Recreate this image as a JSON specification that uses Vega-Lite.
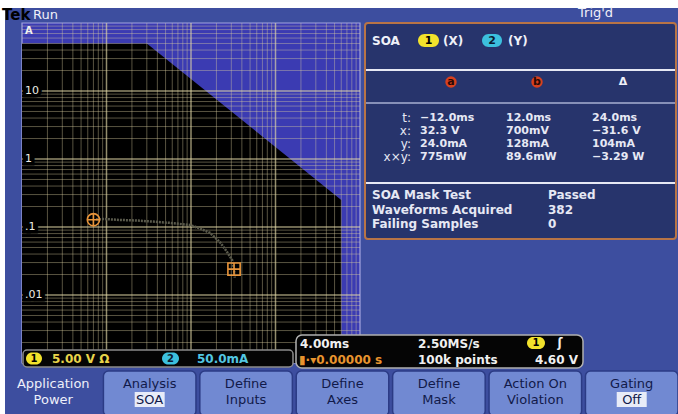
{
  "$schema": "https://vega.github.io/schema/vega-lite/v6.json",
  "width": 338,
  "height": 340,
  "autosize": {"type": "none"},
  "padding": {"left": 22, "top": 23, "right": 318, "bottom": 51},
  "background": "#ffffff",
  "config": {
    "view": {"stroke": null},
    "axis": {"disable": true},
    "legend": {"disable": true},
    "text": {"font": "DejaVu Sans", "fontSize": 12}
  },
  "data": {"values": [{}]},
  "datasets": {
    "mask": [
      {"volts": 0.1, "amps": 50},
      {"volts": 3, "amps": 50},
      {"volts": 600, "amps": 0.25}
    ],
    "xMinor": [
      {"volts": 0.2}, {"volts": 0.3}, {"volts": 0.4}, {"volts": 0.5}, {"volts": 0.6}, {"volts": 0.7}, {"volts": 0.8}, {"volts": 0.9},
      {"volts": 2}, {"volts": 3}, {"volts": 4}, {"volts": 5}, {"volts": 6}, {"volts": 7}, {"volts": 8}, {"volts": 9},
      {"volts": 20}, {"volts": 30}, {"volts": 40}, {"volts": 50}, {"volts": 60}, {"volts": 70}, {"volts": 80}, {"volts": 90},
      {"volts": 200}, {"volts": 300}, {"volts": 400}, {"volts": 500}, {"volts": 600}, {"volts": 700}, {"volts": 800}, {"volts": 900}
    ],
    "xMajor": [{"volts": 1}, {"volts": 10}, {"volts": 100}],
    "yMinor": [
      {"amps": 0.002}, {"amps": 0.003}, {"amps": 0.004}, {"amps": 0.005}, {"amps": 0.006}, {"amps": 0.007}, {"amps": 0.008}, {"amps": 0.009},
      {"amps": 0.02}, {"amps": 0.03}, {"amps": 0.04}, {"amps": 0.05}, {"amps": 0.06}, {"amps": 0.07}, {"amps": 0.08}, {"amps": 0.09},
      {"amps": 0.2}, {"amps": 0.3}, {"amps": 0.4}, {"amps": 0.5}, {"amps": 0.6}, {"amps": 0.7}, {"amps": 0.8}, {"amps": 0.9},
      {"amps": 2}, {"amps": 3}, {"amps": 4}, {"amps": 5}, {"amps": 6}, {"amps": 7}, {"amps": 8}, {"amps": 9},
      {"amps": 20}, {"amps": 30}, {"amps": 40}, {"amps": 50}, {"amps": 60}, {"amps": 70}, {"amps": 80}, {"amps": 90}
    ],
    "yMajor": [{"amps": 0.01}, {"amps": 0.1}, {"amps": 1}, {"amps": 10}],
    "ampLabels": [
      {"amps": 10, "label": "10"},
      {"amps": 1, "label": "1"},
      {"amps": 0.1, "label": ".1"},
      {"amps": 0.01, "label": ".01"}
    ],
    "trace": [
      {"volts": 0.75, "amps": 0.13},
      {"volts": 0.96, "amps": 0.131},
      {"volts": 1.44, "amps": 0.127},
      {"volts": 2.17, "amps": 0.125},
      {"volts": 3.55, "amps": 0.12},
      {"volts": 5.64, "amps": 0.115},
      {"volts": 9.73, "amps": 0.107},
      {"volts": 12.8, "amps": 0.095},
      {"volts": 16.8, "amps": 0.082},
      {"volts": 22, "amps": 0.06},
      {"volts": 26.7, "amps": 0.043},
      {"volts": 30.6, "amps": 0.033},
      {"volts": 32.3, "amps": 0.024},
      {"volts": 33, "amps": 0.018}
    ],
    "cursors": [
      {"cursor": "a", "volts": 0.7, "amps": 0.128},
      {"cursor": "b", "volts": 32.3, "amps": 0.024}
    ],
    "readout": [
      {"quantity": "t:", "a": "−12.0ms", "b": "12.0ms", "delta": "24.0ms"},
      {"quantity": "x:", "a": "32.3 V", "b": "700mV", "delta": "−31.6 V"},
      {"quantity": "y:", "a": "24.0mA", "b": "128mA", "delta": "104mA"},
      {"quantity": "x×y:", "a": "775mW", "b": "89.6mW", "delta": "−3.29 W"}
    ],
    "cursorHeads": [
      {"column": "a", "symbol": "a", "marker": true},
      {"column": "b", "symbol": "b", "marker": true},
      {"column": "delta", "symbol": "Δ", "marker": false}
    ],
    "maskTest": [
      {"item": "SOA Mask Test", "result": "Passed"},
      {"item": "Waveforms Acquired", "result": "382"},
      {"item": "Failing Samples", "result": "0"}
    ],
    "softkeys": [
      {"slot": 0, "caption": "Application", "setting": "Power", "button": false, "selected": false},
      {"slot": 1, "caption": "Analysis", "setting": "SOA", "button": true, "selected": true},
      {"slot": 2, "caption": "Define", "setting": "Inputs", "button": true, "selected": false},
      {"slot": 3, "caption": "Define", "setting": "Axes", "button": true, "selected": false},
      {"slot": 4, "caption": "Define", "setting": "Mask", "button": true, "selected": false},
      {"slot": 5, "caption": "Action On", "setting": "Violation", "button": true, "selected": false},
      {"slot": 6, "caption": "Gating", "setting": "Off", "button": true, "selected": true}
    ]
  },
  "layer": [
    {
      "layer": [
        {"mark": {"type": "rect", "fill": "#3d4e9f"},
         "encoding": {
           "x": {"datum": 5, "type": "quantitative", "scale": {"domain": [0, 678], "range": [-22, 656], "nice": false, "zero": false}},
           "x2": {"datum": 678},
           "y": {"datum": 8, "type": "quantitative", "scale": {"domain": [0, 414], "range": [-23, 391], "nice": false, "zero": false}},
           "y2": {"datum": 414}}},
        {"mark": {"type": "rect", "fill": "#27346c", "stroke": "#b87446", "strokeWidth": 2, "cornerRadius": 3},
         "encoding": {"x": {"datum": 365, "type": "quantitative"}, "x2": {"datum": 676}, "y": {"datum": 23, "type": "quantitative"}, "y2": {"datum": 239}}},
        {"mark": {"type": "rule", "stroke": "#e6e8f4", "strokeWidth": 2},
         "encoding": {"x": {"datum": 366, "type": "quantitative"}, "x2": {"datum": 675}, "y": {"datum": 70, "type": "quantitative"}}},
        {"mark": {"type": "rule", "stroke": "#8790b8", "strokeWidth": 2},
         "encoding": {"x": {"datum": 366, "type": "quantitative"}, "x2": {"datum": 675}, "y": {"datum": 103, "type": "quantitative"}}},
        {"mark": {"type": "rule", "stroke": "#e6e8f4", "strokeWidth": 2},
         "encoding": {"x": {"datum": 366, "type": "quantitative"}, "x2": {"datum": 675}, "y": {"datum": 183, "type": "quantitative"}}}
      ]
    },
    {
      "layer": [
        {"mark": {"type": "rect", "fill": "#3b3bb2", "stroke": "#a4a4e0", "strokeWidth": 1.2},
         "encoding": {
           "x": {"datum": 0.1, "type": "quantitative", "scale": {"type": "log", "domain": [0.1, 1000], "nice": false}},
           "x2": {"datum": 1000},
           "y": {"datum": 0.001, "type": "quantitative", "scale": {"type": "log", "domain": [0.001, 100], "nice": false}},
           "y2": {"datum": 100}}},
        {"data": {"name": "mask"},
         "mark": {"type": "area", "fill": "#000000", "interpolate": "linear"},
         "encoding": {"x": {"field": "volts", "type": "quantitative"}, "y": {"field": "amps", "type": "quantitative", "stack": null}, "y2": {"datum": 0.001}}},
        {"data": {"name": "xMinor"},
         "mark": {"type": "rule", "stroke": "#ddd0a0", "strokeOpacity": 0.4, "strokeWidth": 1},
         "encoding": {"x": {"field": "volts", "type": "quantitative"}}},
        {"data": {"name": "yMinor"},
         "mark": {"type": "rule", "stroke": "#ddd0a0", "strokeOpacity": 0.4, "strokeWidth": 1},
         "encoding": {"y": {"field": "amps", "type": "quantitative"}}},
        {"data": {"name": "xMajor"},
         "mark": {"type": "rule", "stroke": "#e2d8a8", "strokeOpacity": 0.65, "strokeWidth": 1.5},
         "encoding": {"x": {"field": "volts", "type": "quantitative"}}},
        {"data": {"name": "yMajor"},
         "mark": {"type": "rule", "stroke": "#e2d8a8", "strokeOpacity": 0.65, "strokeWidth": 1.5},
         "encoding": {"y": {"field": "amps", "type": "quantitative"}}},
        {"data": {"name": "trace"},
         "mark": {"type": "line", "stroke": "#5a5a4c", "strokeWidth": 2.5, "strokeDash": [2, 1]},
         "encoding": {"x": {"field": "volts", "type": "quantitative"}, "y": {"field": "amps", "type": "quantitative"}}},
        {"data": {"name": "cursors"},
         "mark": {"type": "point", "filled": false, "stroke": "#e8943a", "strokeWidth": 1.6, "size": 150, "opacity": 1},
         "encoding": {
           "x": {"field": "volts", "type": "quantitative"},
           "y": {"field": "amps", "type": "quantitative"},
           "shape": {"field": "cursor", "type": "nominal", "scale": {"domain": ["a", "b"], "range": ["M-1,0A1,1,0,1,1,1,0A1,1,0,1,1,-1,0ZM-1,0L1,0M0,-1L0,1", "M-1,-1L1,-1L1,1L-1,1ZM-1,0L1,0M0,-1L0,1"]}}}},
        {"data": {"name": "ampLabels"},
         "mark": {"type": "text", "align": "left", "baseline": "middle", "dx": 3, "fill": "#000000", "stroke": "#000000", "strokeWidth": 7, "fontSize": 11},
         "encoding": {"x": {"datum": 0.1, "type": "quantitative"}, "y": {"field": "amps", "type": "quantitative"}, "text": {"field": "label"}}},
        {"data": {"name": "ampLabels"},
         "mark": {"type": "text", "align": "left", "baseline": "middle", "dx": 3, "fill": "#ecece4", "fontSize": 11},
         "encoding": {"x": {"datum": 0.1, "type": "quantitative"}, "y": {"field": "amps", "type": "quantitative"}, "text": {"field": "label"}}},
        {"mark": {"type": "text", "text": "A", "align": "left", "baseline": "middle", "dx": 3, "dy": 8, "fill": "#f0f0f0", "fontSize": 10, "fontWeight": "bold"},
         "encoding": {"x": {"datum": 0.1, "type": "quantitative"}, "y": {"datum": 100, "type": "quantitative"}}}
      ]
    },
    {
      "layer": [
        {"mark": {"type": "rect", "fill": "#050505", "stroke": "#8c8c8c", "strokeWidth": 1.5, "cornerRadius": 4},
         "encoding": {
           "x": {"datum": 23, "type": "quantitative", "scale": {"domain": [0, 678], "range": [-22, 656], "nice": false, "zero": false}},
           "x2": {"datum": 293},
           "y": {"datum": 350, "type": "quantitative", "scale": {"domain": [0, 414], "range": [-23, 391], "nice": false, "zero": false}},
           "y2": {"datum": 367}}},
        {"mark": {"type": "rect", "fill": "#050505", "stroke": "#b0b0b0", "strokeWidth": 1.5, "cornerRadius": 6},
         "encoding": {"x": {"datum": 296, "type": "quantitative"}, "x2": {"datum": 583}, "y": {"datum": 335, "type": "quantitative"}, "y2": {"datum": 368}}},
        {"mark": {"type": "rect", "fill": "#f2e22c", "cornerRadius": 6},
         "encoding": {"x": {"datum": 26, "type": "quantitative"}, "x2": {"datum": 42}, "y": {"datum": 352.5, "type": "quantitative"}, "y2": {"datum": 364.5}}},
        {"mark": {"type": "rect", "fill": "#3cc0de", "cornerRadius": 6},
         "encoding": {"x": {"datum": 162, "type": "quantitative"}, "x2": {"datum": 179}, "y": {"datum": 352.5, "type": "quantitative"}, "y2": {"datum": 364.5}}},
        {"mark": {"type": "rect", "fill": "#f2e22c", "cornerRadius": 6},
         "encoding": {"x": {"datum": 527, "type": "quantitative"}, "x2": {"datum": 545}, "y": {"datum": 337, "type": "quantitative"}, "y2": {"datum": 349}}},
        {"mark": {"type": "rect", "fill": "#f2e22c", "cornerRadius": 7},
         "encoding": {"x": {"datum": 418, "type": "quantitative"}, "x2": {"datum": 439}, "y": {"datum": 34, "type": "quantitative"}, "y2": {"datum": 47}}},
        {"mark": {"type": "rect", "fill": "#3cc0de", "cornerRadius": 7},
         "encoding": {"x": {"datum": 482, "type": "quantitative"}, "x2": {"datum": 502}, "y": {"datum": 34, "type": "quantitative"}, "y2": {"datum": 47}}},
        {"mark": {"type": "text", "text": "1", "align": "center", "baseline": "middle", "fill": "#000000", "fontWeight": "bold", "fontSize": 10},
         "encoding": {"x": {"datum": 34, "type": "quantitative"}, "y": {"datum": 358.5, "type": "quantitative"}}},
        {"mark": {"type": "text", "text": "5.00 V  Ω", "align": "left", "baseline": "middle", "fill": "#e8d44a", "fontSize": 12, "fontWeight": "bold"},
         "encoding": {"x": {"datum": 52, "type": "quantitative"}, "y": {"datum": 358.5, "type": "quantitative"}}},
        {"mark": {"type": "text", "text": "2", "align": "center", "baseline": "middle", "fill": "#0c1a30", "fontWeight": "bold", "fontSize": 10},
         "encoding": {"x": {"datum": 170.5, "type": "quantitative"}, "y": {"datum": 358.5, "type": "quantitative"}}},
        {"mark": {"type": "text", "text": "50.0mA", "align": "left", "baseline": "middle", "fill": "#52c6e2", "fontSize": 12, "fontWeight": "bold"},
         "encoding": {"x": {"datum": 197, "type": "quantitative"}, "y": {"datum": 358.5, "type": "quantitative"}}},
        {"mark": {"type": "text", "text": "4.00ms", "align": "left", "baseline": "middle", "fill": "#f0f0f0", "fontSize": 12, "fontWeight": "bold"},
         "encoding": {"x": {"datum": 300, "type": "quantitative"}, "y": {"datum": 343.5, "type": "quantitative"}}},
        {"mark": {"type": "text", "text": "2.50MS/s", "align": "left", "baseline": "middle", "fill": "#f0f0f0", "fontSize": 12, "fontWeight": "bold"},
         "encoding": {"x": {"datum": 418, "type": "quantitative"}, "y": {"datum": 343.5, "type": "quantitative"}}},
        {"mark": {"type": "text", "text": "1", "align": "center", "baseline": "middle", "fill": "#000000", "fontWeight": "bold", "fontSize": 10},
         "encoding": {"x": {"datum": 536, "type": "quantitative"}, "y": {"datum": 343, "type": "quantitative"}}},
        {"mark": {"type": "text", "text": "ʃ", "align": "center", "baseline": "middle", "fill": "#f0f0f0", "fontWeight": "bold", "fontSize": 12},
         "encoding": {"x": {"datum": 560, "type": "quantitative"}, "y": {"datum": 343, "type": "quantitative"}}},
        {"mark": {"type": "text", "text": "▮·▾0.00000 s", "align": "left", "baseline": "middle", "fill": "#e8942e", "fontSize": 12, "fontWeight": "bold"},
         "encoding": {"x": {"datum": 299, "type": "quantitative"}, "y": {"datum": 359.5, "type": "quantitative"}}},
        {"mark": {"type": "text", "text": "100k points", "align": "left", "baseline": "middle", "fill": "#f0f0f0", "fontSize": 12, "fontWeight": "bold"},
         "encoding": {"x": {"datum": 418, "type": "quantitative"}, "y": {"datum": 359.5, "type": "quantitative"}}},
        {"mark": {"type": "text", "text": "4.60 V", "align": "right", "baseline": "middle", "fill": "#f0f0f0", "fontSize": 12, "fontWeight": "bold"},
         "encoding": {"x": {"datum": 578, "type": "quantitative"}, "y": {"datum": 359.5, "type": "quantitative"}}},
        {"mark": {"type": "text", "text": "Tek", "align": "left", "baseline": "middle", "fill": "#000000", "fontWeight": "bold", "fontSize": 15},
         "encoding": {"x": {"datum": 2, "type": "quantitative"}, "y": {"datum": 15, "type": "quantitative"}}},
        {"mark": {"type": "text", "text": "Run", "align": "left", "baseline": "middle", "fill": "#f0f0f8", "fontSize": 13},
         "encoding": {"x": {"datum": 33, "type": "quantitative"}, "y": {"datum": 15, "type": "quantitative"}}},
        {"mark": {"type": "text", "text": "Trig'd", "align": "left", "baseline": "middle", "fill": "#f0f0f8", "fontSize": 13},
         "encoding": {"x": {"datum": 578, "type": "quantitative"}, "y": {"datum": 13, "type": "quantitative"}}},
        {"mark": {"type": "text", "text": "SOA", "align": "left", "baseline": "middle", "fill": "#eef0f8", "fontSize": 12, "fontWeight": "bold"},
         "encoding": {"x": {"datum": 372, "type": "quantitative"}, "y": {"datum": 41, "type": "quantitative"}}},
        {"mark": {"type": "text", "text": "1", "align": "center", "baseline": "middle", "fill": "#000000", "fontWeight": "bold", "fontSize": 11},
         "encoding": {"x": {"datum": 428.5, "type": "quantitative"}, "y": {"datum": 40.5, "type": "quantitative"}}},
        {"mark": {"type": "text", "text": "(X)", "align": "left", "baseline": "middle", "fill": "#eef0f8", "fontSize": 12, "fontWeight": "bold"},
         "encoding": {"x": {"datum": 443, "type": "quantitative"}, "y": {"datum": 41, "type": "quantitative"}}},
        {"mark": {"type": "text", "text": "2", "align": "center", "baseline": "middle", "fill": "#0c1a30", "fontWeight": "bold", "fontSize": 11},
         "encoding": {"x": {"datum": 492, "type": "quantitative"}, "y": {"datum": 40.5, "type": "quantitative"}}},
        {"mark": {"type": "text", "text": "(Y)", "align": "left", "baseline": "middle", "fill": "#eef0f8", "fontSize": 12, "fontWeight": "bold"},
         "encoding": {"x": {"datum": 508, "type": "quantitative"}, "y": {"datum": 41, "type": "quantitative"}}}
      ]
    },
    {
      "layer": [
        {"data": {"name": "readout"},
         "mark": {"type": "text", "align": "right", "baseline": "middle", "dx": -9, "fill": "#e6e8f4", "fontSize": 12},
         "encoding": {
           "x": {"datum": "a", "type": "nominal", "scale": {"type": "point", "domain": ["a", "b", "delta"], "range": [398, 570], "padding": 0}},
           "y": {"field": "quantity", "type": "nominal", "scale": {"type": "point", "domain": ["t:", "x:", "y:", "x×y:"], "range": [95, 134], "padding": 0}},
           "text": {"field": "quantity"}}},
        {"data": {"name": "readout"},
         "transform": [{"fold": ["a", "b", "delta"], "as": ["column", "reading"]}],
         "mark": {"type": "text", "align": "left", "baseline": "middle", "fill": "#e6e8f4", "fontSize": 11, "fontWeight": "bold"},
         "encoding": {
           "x": {"field": "column", "type": "nominal"},
           "y": {"field": "quantity", "type": "nominal"},
           "text": {"field": "reading"}}},
        {"data": {"name": "cursorHeads"},
         "transform": [{"filter": "datum.marker"}],
         "mark": {"type": "point", "shape": "circle", "filled": true, "fill": "#d8401e", "size": 130, "xOffset": 31, "yOffset": -36, "opacity": 1},
         "encoding": {"x": {"field": "column", "type": "nominal"}, "y": {"datum": "t:", "type": "nominal"}}},
        {"data": {"name": "cursorHeads"},
         "mark": {"type": "text", "align": "center", "baseline": "middle", "dx": 31, "dy": -36, "fontSize": 11, "fontWeight": "bold"},
         "encoding": {
           "x": {"field": "column", "type": "nominal"},
           "y": {"datum": "t:", "type": "nominal"},
           "text": {"field": "symbol"},
           "color": {"condition": {"test": "datum.marker", "value": "#2a0a05"}, "value": "#eef0f8"}}}
      ]
    },
    {
      "layer": [
        {"data": {"name": "maskTest"},
         "mark": {"type": "text", "align": "left", "baseline": "middle", "fill": "#e6e8f4", "fontSize": 12, "fontWeight": "bold"},
         "encoding": {
           "x": {"datum": 372, "type": "quantitative", "scale": {"domain": [0, 678], "range": [-22, 656], "nice": false, "zero": false}},
           "y": {"field": "item", "type": "nominal", "scale": {"type": "point", "domain": ["SOA Mask Test", "Waveforms Acquired", "Failing Samples"], "range": [172, 201], "padding": 0}},
           "text": {"field": "item"}}},
        {"data": {"name": "maskTest"},
         "mark": {"type": "text", "align": "left", "baseline": "middle", "fill": "#e6e8f4", "fontSize": 12, "fontWeight": "bold"},
         "encoding": {
           "x": {"datum": 548, "type": "quantitative"},
           "y": {"field": "item", "type": "nominal"},
           "text": {"field": "result"}}}
      ]
    },
    {
      "layer": [
        {"data": {"name": "softkeys"},
         "transform": [{"filter": "datum.button"}],
         "mark": {"type": "rect", "fill": "#7189d2", "stroke": "#2b3b85", "strokeWidth": 1.5, "cornerRadius": 5},
         "encoding": {
           "x": {"field": "slot", "type": "nominal", "scale": {"type": "band", "domain": [0, 1, 2, 3, 4, 5, 6], "range": [-15, 656], "paddingInner": 0.04, "paddingOuter": 0}},
           "y": {"datum": 371, "type": "quantitative", "scale": {"domain": [0, 414], "range": [-23, 391], "nice": false, "zero": false}},
           "y2": {"datum": 416}}},
        {"data": {"name": "softkeys"},
         "transform": [{"filter": "datum.selected"}],
         "mark": {"type": "bar", "fill": "#e8ecf8", "width": 30},
         "encoding": {
           "x": {"field": "slot", "type": "nominal"},
           "y": {"datum": 392, "type": "quantitative"},
           "y2": {"datum": 407}}},
        {"data": {"name": "softkeys"},
         "mark": {"type": "text", "align": "center", "baseline": "middle", "fontSize": 13},
         "encoding": {
           "x": {"field": "slot", "type": "nominal"},
           "y": {"datum": 384, "type": "quantitative"},
           "text": {"field": "caption"},
           "color": {"condition": {"test": "datum.button", "value": "#111a4a"}, "value": "#eef0fa"}}},
        {"data": {"name": "softkeys"},
         "mark": {"type": "text", "align": "center", "baseline": "middle", "fontSize": 13},
         "encoding": {
           "x": {"field": "slot", "type": "nominal"},
           "y": {"datum": 400, "type": "quantitative"},
           "text": {"field": "setting"},
           "color": {"condition": {"test": "datum.button", "value": "#111a4a"}, "value": "#eef0fa"}}}
      ]
    }
  ],
  "resolve": {"scale": {"x": "independent", "y": "independent", "shape": "independent", "color": "independent"}}
}
